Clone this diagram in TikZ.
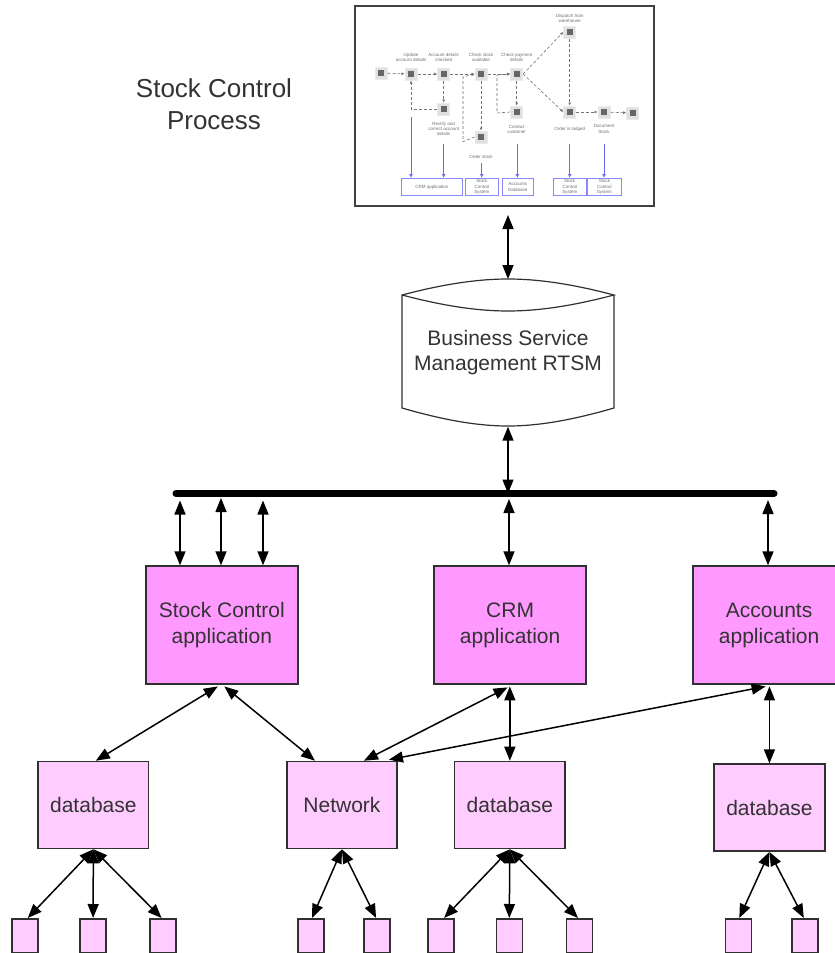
\documentclass[tikz,border=0pt]{standalone}
\usepackage{fontspec}
\setmainfont{Liberation Sans}
\usetikzlibrary{arrows.meta}
\definecolor{appfill}{HTML}{FF99FF}
\definecolor{lowfill}{HTML}{FFCCFF}
\definecolor{edge}{HTML}{303030}
\definecolor{inktext}{HTML}{333333}
\definecolor{thumbblue}{HTML}{3A3AF5}
\definecolor{thumbgrey}{HTML}{707070}
\tikzset{
 biarrow/.style={draw=edge,line width=1.5pt,{Triangle[length=14pt,width=11pt]}-{Triangle[length=14pt,width=11pt]},black},
 box/.style={draw=edge,line width=1.6pt,rectangle,inner sep=0pt,anchor=north west,align=center,text=inktext,font=\fontsize{21}{25.5}\selectfont},
 appbox/.style={box,fill=appfill,minimum width=152pt,minimum height=118pt},
 lowbox/.style={box,fill=lowfill,minimum width=110.5pt,minimum height=87pt},
 leafbox/.style={box,fill=lowfill,minimum width=26pt,minimum height=34pt},
 thumbicon/.style={fill=black!12,draw=black!8,line width=1pt,minimum size=12pt,inner sep=0pt,path picture={\fill[black!60]([xshift=-3.2pt,yshift=-3pt]path picture bounding box.center) rectangle ([xshift=3.2pt,yshift=3pt]path picture bounding box.center);}},
 thumbtext/.style={font=\fontsize{4.5}{5.2}\selectfont,text=thumbgrey,align=center,inner sep=0pt},
 thumbflow/.style={draw=black!55,line width=.6pt,densely dashed,-{Latex[length=3pt,width=3pt]}},
 thumbsys/.style={draw=thumbblue!60,line width=.9pt,rectangle,inner sep=0pt,anchor=north west,font=\fontsize{4.5}{5.2}\selectfont,text=thumbgrey,align=center},
 thumblink/.style={draw=thumbblue!75,line width=.8pt,-{Latex[length=4pt,width=4pt]}},
}
\begin{document}
\begin{tikzpicture}[x=1pt,y=-1pt]
\useasboundingbox (0,0) rectangle (835,953);
\clip (0,0) rectangle (835,953);
% title
\node[font=\fontsize{26}{32}\selectfont,text=inktext,align=center] (title) at (214,104) {Stock Control\\Process};
% thumbnail frame
\node[draw=black!75,line width=2pt,fill=white,rectangle,anchor=north west,minimum width=299pt,minimum height=200pt,inner sep=0pt] (frame) at (354,5) {};
% thumbnail steps
\node[thumbicon] (tstart) at (381,73) {};
\node[thumbicon] (tupd) at (411,74) {};
\node[thumbicon] (tacc) at (443.7,74) {};
\node[thumbicon] (tchk) at (481,74) {};
\node[thumbicon] (tpay) at (516.7,74) {};
\node[thumbicon] (tdis) at (569.7,32) {};
\node[thumbicon] (tord) at (569.7,112) {};
\node[thumbicon] (tdoc) at (604,112) {};
\node[thumbicon] (tend) at (632.7,113) {};
\node[thumbicon] (trec) at (443.7,109) {};
\node[thumbicon] (tcon) at (516.7,112) {};
\node[thumbicon] (tstk) at (481,137) {};
\node[thumbtext] (l1) at (411,57) {Update\\account details};
\node[thumbtext] (l2) at (443.7,57) {Account details\\checked};
\node[thumbtext] (l3) at (481,57) {Check stock\\available};
\node[thumbtext] (l4) at (516.7,57) {Check payment\\details};
\node[thumbtext] (l5) at (569.7,18.5) {Dispatch from\\warehouse};
\node[thumbtext] (l6) at (443.7,129) {Rectify and\\correct account\\details};
\node[thumbtext] (l7) at (481,157) {Order stock};
\node[thumbtext] (l8) at (516.7,129.5) {Contact\\customer};
\node[thumbtext] (l9) at (569.7,129) {Order is lodged};
\node[thumbtext] (l10) at (604,129) {Document\\Stock};
% thumbnail flow
\draw[thumbflow] (tstart) -- (tupd);
\draw[thumbflow] (tupd) -- (tacc);
\draw[thumbflow] (tacc) -- (tchk);
\draw[thumbflow] (tchk) -- (tpay);
\draw[thumbflow] (tpay.east) -- (tdis.west);
\draw[thumbflow] (tpay.east) -- (tord.west);
\draw[thumbflow] (tdis) -- (tord);
\draw[thumbflow] (tord) -- (tdoc);
\draw[thumbflow] (tdoc) -- (tend);
\draw[thumbflow] (tacc) -- (trec);
\draw[thumbflow] (trec.west) -| (tupd.south);
\draw[thumbflow] (tpay) -- (tcon);
\draw[thumbflow] (tchk) -- (tstk);
\coordinate (tv1) at (463,141.7);
\coordinate (tv2) at (463,77);
\coordinate (tv3) at (497,113);
\coordinate (tv4) at (497,75);
\draw[thumbflow] (tstk.west) -- (tv1) -- (tv2) -- (tchk.west);
\draw[thumbflow] (tcon.west) -- (tv3) -- (tv4) -- (tpay.west);
% thumbnail systems
\node[thumbsys,minimum width=60.7pt,minimum height=17pt] (s1) at (401,178) {CRM application};
\node[thumbsys,minimum width=33pt,minimum height=17pt] (s2) at (465,178) {Stock\\Control\\System};
\node[thumbsys,minimum width=31.3pt,minimum height=17pt] (s3) at (501.7,178) {Accounts\\Database};
\node[thumbsys,minimum width=32.7pt,minimum height=17pt] (s4) at (553,178) {Stock\\Control\\System};
\node[thumbsys,minimum width=34pt,minimum height=17pt] (s5) at (587,178) {Stock\\Control\\System};
\coordinate (c1) at (411,117);
\coordinate (c2) at (443.7,144);
\coordinate (c3) at (481.7,163);
\coordinate (c4) at (517.3,144);
\coordinate (c5) at (569.7,144);
\coordinate (c6) at (604,144);
\draw[thumblink] (c1) -- (c1 |- s1.north);
\draw[thumblink] (c2) -- (c2 |- s1.north);
\draw[thumblink] (c3) -- (c3 |- s2.north);
\draw[thumblink] (c4) -- (c4 |- s3.north);
\draw[thumblink] (c5) -- (c5 |- s4.north);
\draw[thumblink] (c6) -- (c6 |- s5.north);
% cylinder
\node[rectangle,minimum width=212pt,minimum height=147pt,inner sep=0pt,align=center,text=inktext,font=\fontsize{21}{25.5}\selectfont] (rtsm) at (508,352.5) {Business Service\\Management RTSM};
\draw[edge,line width=1.2pt]
 (402,295) .. controls (440,285) and (475,279) .. (508,279) .. controls (541,279) and (576,285) .. (614,295)
 .. controls (576,305) and (541,311) .. (508,311) .. controls (475,311) and (440,305) .. (402,295)
 -- (402,408) .. controls (440,419) and (475,426) .. (508,426) .. controls (541,426) and (576,419) .. (614,408) -- (614,295);
% bus
\coordinate (busL) at (176,493.5);
\coordinate (busR) at (774,493.5);
\draw[line width=7pt,line cap=round,black] (busL) -- (busR);
% app boxes
\node[appbox] (stock) at (145,565.3) {Stock Control\\application};
\node[appbox] (crm) at (433.3,565.3) {CRM\\application};
\node[appbox] (acct) at (692.3,565.3) {\vphantom{k}Accounts\\application};
% lower boxes
\node[lowbox] (db1) at (37.3,760.7) {database};
\node[lowbox] (net) at (285.9,760.7) {Network};
\node[lowbox] (db2) at (453.8,760.7) {database};
\node[lowbox] (db3) at (713.4,763.3) {database};
% leaves
\foreach \n/\x in {a1/11,a2/79.3,a3/149.3,b1/297.2,b2/363.3,c1l/427.3,c2l/495.5,c3l/565.7,d1/724.5,d2/791}{
 \node[leafbox] (\n) at (\x,918) {};
}
% connectors
\coordinate (ftop) at (508,215);
\draw[biarrow] (ftop) -- (rtsm.north |- 0,279);
\coordinate (cylB) at (508,426.7);
\draw[biarrow] (cylB) -- (cylB |- busL);
\coordinate (busT1) at (180,500.5);
\coordinate (busT2) at (221,498);
\coordinate (busT3) at (263,500.5);
\coordinate (busT4) at (509,499);
\coordinate (busT5) at (768,500);
\draw[biarrow] (busT1) -- (busT1 |- stock.north);
\draw[biarrow] (busT2) -- (busT2 |- stock.north);
\draw[biarrow] (busT3) -- (busT3 |- stock.north);
\draw[biarrow] (busT4) -- (busT4 |- crm.north);
\draw[biarrow] (busT5) -- (busT5 |- acct.north);
\draw[biarrow] ([xshift=-4pt,yshift=-1.5pt]stock.south) -- ([xshift=2.5pt]db1.north);
\draw[biarrow] ([xshift=2.5pt,yshift=-1.5pt]stock.south) -- ([xshift=-27pt]net.north);
\draw[biarrow] ([xshift=22pt]net.north) -- ([xshift=-2.5pt,yshift=-2.5pt]crm.south);
\draw[biarrow] ([xshift=47pt,yshift=1pt]net.north) -- ([xshift=-3.5pt,yshift=-1.5pt]acct.south);
\draw[biarrow] ([yshift=-1.5pt]crm.south -| db2.north) -- (db2.north);
\draw[biarrow] ([yshift=-1.5pt]acct.south -| db3.north) -- (db3.north);
\draw[biarrow] (db1.south) -- ([xshift=3pt]a1.north);
\draw[biarrow] (db1.south) -- (a2.north);
\draw[biarrow] (db1.south) -- ([xshift=-1.5pt]a3.north);
\draw[biarrow] (net.south) -- ([xshift=1pt]b1.north);
\draw[biarrow] (net.south) -- ([xshift=-1pt]b2.north);
\draw[biarrow] (db2.south) -- ([xshift=3pt]c1l.north);
\draw[biarrow] (db2.south) -- (c2l.north);
\draw[biarrow] (db2.south) -- ([xshift=-1.5pt]c3l.north);
\draw[biarrow] (db3.south) -- ([xshift=1pt]d1.north);
\draw[biarrow] (db3.south) -- ([xshift=-1pt]d2.north);
\end{tikzpicture}
\end{document}
